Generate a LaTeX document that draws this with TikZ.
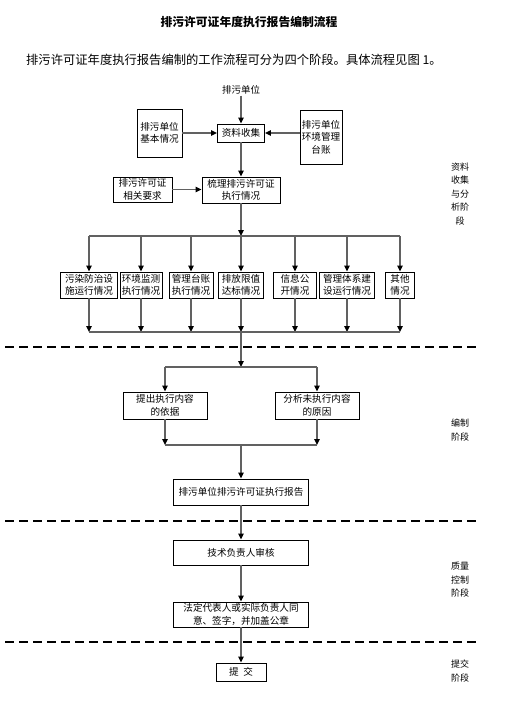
\documentclass[tikz,border=0pt]{standalone}
\usepackage{fontspec}
\setmainfont{Noto Sans CJK SC}
\usetikzlibrary{arrows.meta}
\begin{document}
\begin{tikzpicture}[x=1pt,y=-1pt,
  box/.style={draw=black,line width=0.9pt,inner sep=0pt,align=center,
    font=\fontsize{9.6}{12.5}\selectfont},
  conn/.style={draw=black!62,line width=1.3pt},
  arr/.style={conn,-{Triangle[length=6pt,width=5.5pt,color=black]}},
  phase/.style={align=center,font=\fontsize{9}{13.5}\selectfont},
  sep/.style={line width=1.4pt,dash pattern=on 9pt off 5pt}
]
\useasboundingbox (0,0) rectangle (504,704);

% title and intro
\node[font=\fontsize{11.8}{14}\selectfont\bfseries] (title) at (249,22) {排污许可证年度执行报告编制流程};
\node[anchor=west,inner sep=0pt,font=\fontsize{12.3}{14}\selectfont] (intro) at (26,60) {排污许可证年度执行报告编制的工作流程可分为四个阶段。具体流程见图 1。};

% stage 1
\node[font=\fontsize{9.5}{12}\selectfont,inner sep=1pt] (unit) at (241,90) {排污单位};
\node[box,minimum width=45,minimum height=48] (basic) at (159.5,133) {排污单位\\基本情况};
\node[box,minimum width=47,minimum height=18] (collect) at (241,133) {资料收集};
\node[box,minimum width=42,minimum height=54] (ledger) at (321,137) {排污单位\\环境管理\\台账};
\node[box,minimum width=59,minimum height=25] (req) at (142.5,189.5) {排污许可证\\相关要求};
\node[box,minimum width=78,minimum height=26] (sort) at (241,190) {梳理排污许可证\\执行情况};

\node[box,minimum width=57,minimum height=26] (b1) at (89,285) {污染防治设\\施运行情况};
\node[box,minimum width=42,minimum height=26] (b2) at (141,285) {环境监测\\执行情况};
\node[box,minimum width=44,minimum height=26] (b3) at (191,285) {管理台账\\执行情况};
\node[box,minimum width=45,minimum height=26] (b4) at (241,285) {排放限值\\达标情况};
\node[box,minimum width=43,minimum height=26] (b5) at (295,285) {信息公\\开情况};
\node[box,minimum width=55,minimum height=26] (b6) at (347,285) {管理体系建\\设运行情况};
\node[box,minimum width=29,minimum height=26] (b7) at (400,285) {其他\\情况};

\coordinate (j1) at (241,236);
\coordinate (j2) at (241,332);
\coordinate (j3) at (241,367);
\coordinate (j4) at (241,445);

% stage 2
\node[box,minimum width=84,minimum height=27] (basis) at (165,405.5) {提出执行内容\\的依据};
\node[box,minimum width=84,minimum height=27] (reason) at (317,405.5) {分析未执行内容\\的原因};
\node[box,minimum width=135,minimum height=26] (report) at (241,492) {排污单位排污许可证执行报告};

% stage 3
\node[box,minimum width=135,minimum height=25] (tech) at (241,552.5) {技术负责人审核};
\node[box,minimum width=135,minimum height=25] (legal) at (241,614.5) {法定代表人或实际负责人同\\意、签字，并加盖公章};

% stage 4
\node[box,minimum width=50,minimum height=18] (submit) at (241,672) {提\hspace{0.5em}交};

% phase labels
\node[phase] (p1) at (460,194) {资料\\收集\\与分\\析阶\\段};
\node[phase] (p2) at (460,430) {编制\\阶段};
\node[phase] (p3) at (460,580) {质量\\控制\\阶段};
\node[phase] (p4) at (460,671) {提交\\阶段};

% separators
\coordinate (s1a) at (5,347); \coordinate (s1b) at (478,347);
\coordinate (s2a) at (5,521); \coordinate (s2b) at (478,521);
\coordinate (s3a) at (5,642); \coordinate (s3b) at (478,642);
\draw[sep] (s1a) -- (s1b);
\draw[sep] (s2a) -- (s2b);
\draw[sep] (s3a) -- (s3b);

% connectors stage 1
\draw[arr] (unit.south) -- (collect.north);
\draw[arr] (basic.east |- collect.west) -- (collect.west);
\draw[arr] (ledger.west |- collect.east) -- (collect.east);
\draw[arr] (collect.south) -- (sort.north);
\draw[arr] (req.east) -- (sort.west |- req.east);
\draw[arr] (sort.south) -- (j1);
\draw[conn] (b1.north |- j1) -- (b7.north |- j1);
\foreach \b in {b1,b2,b3,b4,b5,b6,b7} {
  \draw[arr] (\b.north |- j1) -- (\b.north);
  \draw[arr] (\b.south) -- (\b.south |- j2);
}
\draw[conn] (b1.south |- j2) -- (b7.south |- j2);
\draw[arr] (j2) -- (j3);

% connectors stage 2
\draw[conn] (basis.north |- j3) -- (reason.north |- j3);
\draw[arr] (basis.north |- j3) -- (basis.north);
\draw[arr] (reason.north |- j3) -- (reason.north);
\draw[arr] (basis.south) -- (basis.south |- j4);
\draw[arr] (reason.south) -- (reason.south |- j4);
\draw[conn] (basis.south |- j4) -- (reason.south |- j4);
\draw[arr] (j4) -- (report.north);

% connectors stage 3/4
\draw[arr] (report.south) -- (tech.north);
\draw[arr] (tech.south) -- (legal.north);
\draw[arr] (legal.south) -- (submit.north);
\end{tikzpicture}
\end{document}
